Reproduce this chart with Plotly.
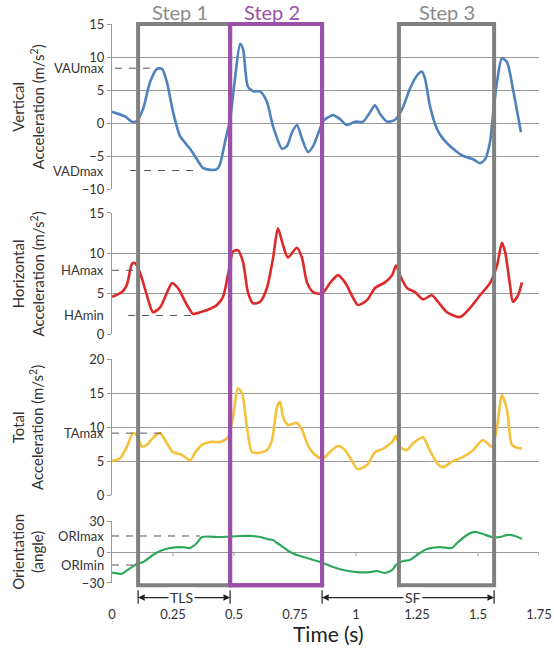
import plotly.graph_objects as go

# ---------------- data ----------------
t_vert = [0.000, 0.053, 0.082, 0.102, 0.127, 0.156, 0.184, 0.205, 0.225, 0.250, 0.279, 0.320, 0.348, 0.373,
          0.402, 0.430, 0.443, 0.463, 0.484, 0.504, 0.525, 0.537, 0.557, 0.578, 0.607, 0.635, 0.660, 0.697,
          0.717, 0.738, 0.758, 0.779, 0.803, 0.824, 0.852, 0.865, 0.906, 0.934, 0.963, 0.996, 1.029, 1.057,
          1.078, 1.098, 1.127, 1.160, 1.189, 1.221, 1.250, 1.270, 1.283, 1.303, 1.332, 1.357, 1.398, 1.439,
          1.480, 1.508, 1.529, 1.549, 1.561, 1.578, 1.598, 1.619, 1.643, 1.676]
v_vert = [1.7, 1.0, 0.2, 0.3, 2.1, 6.2, 8.2, 8.2, 6.2, 1.7, -2.0, -3.9, -5.5, -6.8,
          -7.1, -7.0, -6.2, -2.9, 0.6, 6.7, 12.0, 11.2, 5.5, 4.8, 4.8, 3.2, -0.5, -3.9,
          -3.5, -1.4, -0.3, -2.4, -4.4, -3.5, -0.9, 0.3, 1.2, 0.6, -0.3, 0.2, 0.2, 1.6,
          2.7, 1.4, 0.2, 0.5, 2.1, 5.2, 7.2, 7.8, 6.7, 2.6, -0.9, -2.4, -3.9, -5.0,
          -5.5, -6.1, -5.5, -2.9, 1.1, 6.2, 9.8, 9.2, 5.2, -1.4]

t_horiz = [0.000, 0.041, 0.061, 0.082, 0.094, 0.115, 0.143, 0.168, 0.197, 0.225, 0.246, 0.270, 0.307, 0.332,
           0.361, 0.393, 0.430, 0.455, 0.475, 0.496, 0.516, 0.537, 0.557, 0.578, 0.607, 0.635, 0.660, 0.680,
           0.701, 0.721, 0.758, 0.779, 0.799, 0.824, 0.861, 0.893, 0.926, 0.955, 0.988, 1.008, 1.045, 1.078,
           1.119, 1.148, 1.164, 1.180, 1.209, 1.242, 1.275, 1.311, 1.336, 1.373, 1.426, 1.467, 1.508, 1.549,
           1.578, 1.598, 1.611, 1.631, 1.643, 1.664, 1.680]
v_horiz = [4.6, 5.2, 6.1, 8.7, 8.8, 7.6, 4.8, 2.7, 3.3, 5.1, 6.3, 5.7, 3.6, 2.5,
           2.7, 3.0, 3.6, 4.6, 7.3, 10.2, 10.4, 8.9, 5.2, 3.8, 4.0, 5.7, 9.4, 13.1,
           11.0, 9.5, 10.7, 9.4, 6.4, 5.2, 5.0, 6.3, 7.3, 6.4, 4.5, 3.6, 4.2, 5.7,
           6.4, 7.3, 8.5, 7.3, 5.7, 5.2, 4.3, 4.8, 4.0, 2.7, 2.1, 3.2, 4.8, 6.3,
           8.5, 11.3, 10.2, 6.1, 4.0, 4.8, 6.4]

t_total = [0.000, 0.033, 0.061, 0.086, 0.102, 0.123, 0.143, 0.168, 0.197, 0.225, 0.250, 0.287, 0.320, 0.340,
           0.369, 0.402, 0.443, 0.475, 0.496, 0.516, 0.533, 0.553, 0.574, 0.598, 0.635, 0.656, 0.676, 0.689,
           0.701, 0.721, 0.758, 0.779, 0.799, 0.824, 0.861, 0.893, 0.926, 0.955, 0.988, 1.008, 1.045, 1.078,
           1.111, 1.148, 1.164, 1.180, 1.209, 1.234, 1.275, 1.295, 1.332, 1.357, 1.393, 1.439, 1.480, 1.520,
           1.557, 1.578, 1.598, 1.619, 1.639, 1.664, 1.680]
v_total = [5.0, 5.4, 7.1, 9.1, 8.8, 7.1, 7.4, 8.4, 9.1, 7.6, 6.3, 5.9, 5.1, 6.2,
           7.4, 7.8, 7.8, 8.5, 11.5, 15.7, 15.0, 10.0, 6.3, 6.2, 6.6, 8.1, 12.9, 13.7,
           11.5, 10.3, 10.6, 9.6, 7.6, 6.2, 5.3, 6.3, 7.2, 6.6, 4.7, 3.8, 4.4, 6.3,
           6.8, 7.8, 8.7, 7.1, 6.6, 7.6, 8.5, 7.1, 4.7, 4.1, 4.9, 5.6, 6.6, 8.1,
           7.1, 10.0, 14.7, 12.5, 7.4, 6.9, 6.9]

t_orient = [0.000, 0.041, 0.066, 0.102, 0.127, 0.168, 0.197, 0.238, 0.287, 0.320, 0.348, 0.369, 0.443, 0.525,
            0.578, 0.607, 0.635, 0.660, 0.676, 0.689, 0.730, 0.758, 0.799, 0.840, 0.865, 0.906, 0.947, 1.004,
            1.057, 1.086, 1.119, 1.148, 1.168, 1.193, 1.221, 1.250, 1.291, 1.344, 1.393, 1.414, 1.455, 1.488,
            1.520, 1.557, 1.590, 1.623, 1.652, 1.680]
v_orient = [-20, -21, -17, -11.6, -9.7, -2.9, 1.0, 3.9, 4.8, 3.9, 8.7, 14.5, 14.5, 15.5,
            15.5, 14.5, 12.6, 11.6, 8.7, 6.8, 0.0, -2.9, -5.8, -8.7, -10.6, -14.5, -17.4, -19.4,
            -19.4, -18.4, -20.3, -17.4, -11.6, -8.7, -7.7, -2.9, 2.9, 4.8, 3.9, 8.7, 16.5, 19.4,
            17.4, 14.5, 14.5, 16.5, 15.5, 12.6]

# step windows (s)
step_names = ["Step 1", "Step 2", "Step 3"]
step_start = [0.107, 0.484, 1.176]
step_end = [0.484, 0.861, 1.566]
step_label_shift = [-0.016, -0.016, 0.0]

# reference levels: (label, axis, value, dash start, dash end)
ref_labels = ["VAUmax", "VADmax", "HAmax", "HAmin", "TAmax", "ORImax", "ORImin"]
ref_axes = ["y", "y", "y2", "y2", "y3", "y4", "y4"]
ref_values = [8.3, -7.2, 7.9, 2.3, 9.1, 15.5, -12.6]
ref_x0 = [0.012, 0.074, 0.0, 0.066, 0.0, 0.0, 0.0]
ref_x1 = [0.156, 0.360, 0.100, 0.330, 0.210, 0.360, 0.100]

x_ticks = [0, 0.25, 0.5, 0.75, 1, 1.25, 1.5, 1.75]
x_tick_text = ["0", "0.25", "0.5", "0.75", "1", "1.25", "1.5", "1.75"]

# ---------------- figure ----------------
FONT = "Lato"
GRID = "#9a9a9a"
TXT = "#333333"
GRAY_BOX = "#808080"
PURPLE = "#9b4fa8"

fig = go.Figure()
series = [
    (t_vert, v_vert, "y", "#4f81bd", 2.6),
    (t_horiz, v_horiz, "y2", "#dc2a2a", 2.6),
    (t_total, v_total, "y3", "#f5c13b", 2.6),
    (t_orient, v_orient, "y4", "#2ea85a", 2.2),
]
for tx, vy, ax, col, w in series:
    fig.add_trace(go.Scatter(x=tx, y=vy, yaxis=ax, xaxis="x", mode="lines",
                             line=dict(color=col, width=w, shape="spline", smoothing=0.7),
                             showlegend=False, hoverinfo="skip"))

ycommon = dict(showgrid=True, gridcolor=GRID, gridwidth=1, zeroline=False, showline=True,
               linecolor=GRID, linewidth=1, ticks="outside", ticklen=4, tickcolor=GRID,
               tickfont=dict(family=FONT, size=13, color=TXT), anchor="x", fixedrange=True,
               automargin=False)

fig.update_layout(
    width=554, height=655,
    margin=dict(l=112, r=15, t=24, b=72, autoexpand=False),
    paper_bgcolor="white", plot_bgcolor="white",
    font=dict(family=FONT, color=TXT),
    xaxis=dict(range=[0, 1.75], anchor="y4", showgrid=False, zeroline=False, showline=False,
               tickvals=x_ticks, ticktext=x_tick_text, ticks="", ticklabelstandoff=22,
               tickfont=dict(family=FONT, size=13, color=TXT), automargin=False),
    yaxis=dict(domain=[0.7048, 1.0], range=[-10, 15], dtick=5, **ycommon),
    yaxis2=dict(domain=[0.4454, 0.6619], range=[0, 15], dtick=5, **ycommon),
    yaxis3=dict(domain=[0.1574, 0.4007], range=[0, 20], dtick=5, **ycommon),
    yaxis4=dict(domain=[0.0, 0.1109], range=[-30, 30], dtick=30, **ycommon),
)

# x-axis tick marks on the orientation zero line
for xv in x_ticks[1:]:
    fig.add_shape(type="line", xref="x", yref="y4", x0=xv, x1=xv, y0=0, y1=-4,
                  line=dict(color=GRID, width=1), layer="below")

# reference dashed lines and labels
for lab, ax, val, x0, x1 in zip(ref_labels, ref_axes, ref_values, ref_x0, ref_x1):
    fig.add_shape(type="line", xref="x", yref=ax, x0=x0, x1=x1, y0=val, y1=val,
                  line=dict(color="#555555", width=1, dash="7px,7px"))
    fig.add_annotation(text=lab, xref="paper", yref=ax, x=-0.014, y=val, xanchor="right",
                       yanchor="middle", showarrow=False, font=dict(family=FONT, size=13, color=TXT))

# step boxes
box_cols = [GRAY_BOX, PURPLE, GRAY_BOX]
for name, s, e, c, sh in zip(step_names, step_start, step_end, box_cols, step_label_shift):
    fig.add_shape(type="rect", xref="x", yref="paper", x0=s, x1=e, y0=-0.004, y1=1.0,
                  line=dict(color=c, width=4), fillcolor="rgba(0,0,0,0)", layer="above")
    fig.add_annotation(text=name, xref="x", yref="paper", x=(s + e) / 2 + sh, y=1.0215,
                       showarrow=False, yanchor="middle", xanchor="center",
                       font=dict(family=FONT, size=20, color="#8a8a8a" if c == GRAY_BOX else PURPLE))

# redraw step 2 on top so the purple edge covers the gray
fig.add_shape(type="rect", xref="x", yref="paper", x0=step_start[1], x1=step_end[1], y0=-0.004, y1=1.0,
              line=dict(color=PURPLE, width=4), fillcolor="rgba(0,0,0,0)", layer="above")

# duration arrows (TLS, SF)
arrow_y = -0.026
spans = [("TLS", step_start[0], step_end[0]), ("SF", step_end[1], step_end[2])]
for lab, a, b in spans:
    mid = (a + b) / 2
    for end in (a, b):
        fig.add_annotation(x=end, y=arrow_y, xref="x", yref="paper", ax=mid, ay=0,
                           axref="x", ayref="pixel", text="", showarrow=True,
                           arrowhead=2, arrowsize=1.1, arrowwidth=1.2, arrowcolor="#222222")
        fig.add_shape(type="line", xref="x", yref="paper", x0=end, x1=end, y0=-0.013, y1=-0.037,
                      line=dict(color="#222222", width=1.2))
    fig.add_annotation(text=lab, x=mid + (0.02 if lab == "SF" else -0.01), y=arrow_y, xref="x", yref="paper",
                       showarrow=False, bgcolor="white", yanchor="middle", xanchor="center",
                       font=dict(family=FONT, size=14, color=TXT))

# axis titles
panel_titles = ["Vertical<br>Acceleration (m/s<sup>2</sup>)",
                "Horizontal<br>Acceleration (m/s<sup>2</sup>)",
                "Total<br>Acceleration (m/s<sup>2</sup>)",
                "Orientation<br>(angle)"]
panel_centers = [(0.7048 + 1.0) / 2, (0.4454 + 0.6619) / 2, (0.1574 + 0.4007) / 2, 0.0555]
for txt, yc in zip(panel_titles, panel_centers):
    fig.add_annotation(text=txt, xref="paper", yref="paper", x=-0.197, y=yc, textangle=-90,
                       showarrow=False, xanchor="center", yanchor="middle",
                       font=dict(family=FONT, size=15, color=TXT))

fig.add_annotation(text="Time (s)", xref="x", yref="paper", x=0.889, y=-0.0912, showarrow=False,
                   xanchor="center", yanchor="middle",
                   font=dict(family=FONT, size=21, color="#222222"))

fig.write_html("out.html")
